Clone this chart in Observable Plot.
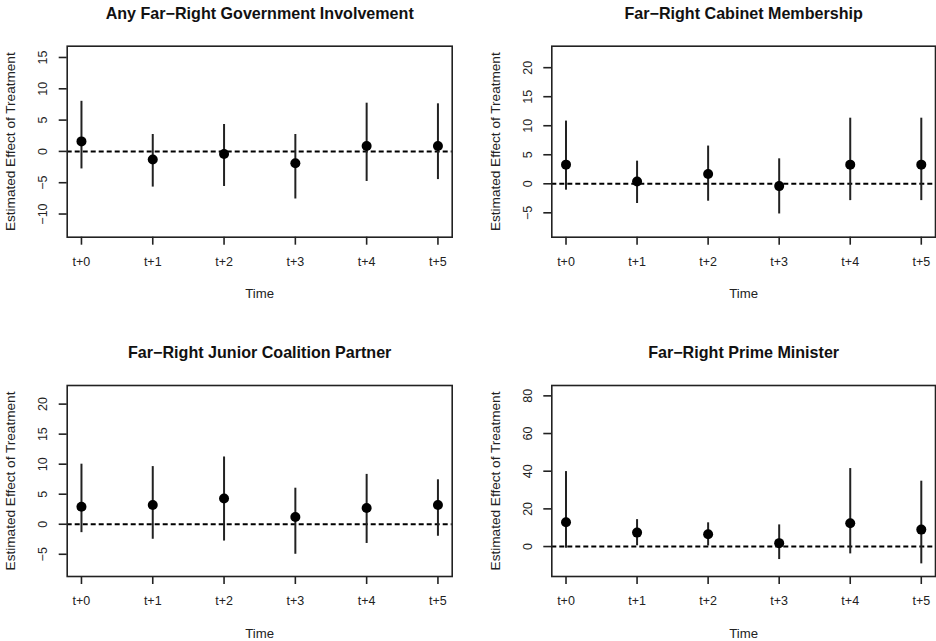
<!DOCTYPE html>
<html>
<head>
<meta charset="utf-8">
<script src="https://cdn.jsdelivr.net/npm/d3@7"></script>
<script src="https://cdn.jsdelivr.net/npm/@observablehq/plot@0.6"></script>
<style>
  html, body { margin: 0; padding: 0; background: #fff; }
  #grid { position: relative; width: 936px; height: 641px; background: #fff; }
  .panel { position: absolute; }
  .panel svg { display: block; overflow: visible; }
</style>
</head>
<body>
<div id="grid"></div>
<script>
// Time since treatment (x axis categories)
const timeLabels = ["t+0", "t+1", "t+2", "t+3", "t+4", "t+5"];

// Any far-right government involvement
const anyEst   = [1.6, -1.3, -0.4, -1.9, 0.85, 0.85];
const anyLower = [-2.8, -5.7, -5.6, -7.6, -4.8, -4.5];
const anyUpper = [8.0, 2.7, 4.3, 2.7, 7.7, 7.6];
const anyTicks = [-10, -5, 0, 5, 10, 15];

// Far-right cabinet membership
const cabEst   = [3.3, 0.4, 1.7, -0.4, 3.3, 3.3];
const cabLower = [-1.1, -3.4, -3.0, -5.2, -2.9, -2.9];
const cabUpper = [10.8, 3.9, 6.5, 4.3, 11.3, 11.3];
const cabTicks = [-5, 0, 5, 10, 15, 20];

// Far-right junior coalition partner
const junEst   = [2.9, 3.2, 4.3, 1.2, 2.7, 3.2];
const junLower = [-1.4, -2.5, -2.8, -5.0, -3.2, -2.0];
const junUpper = [10.0, 9.6, 11.2, 6.0, 8.3, 7.4];
const junTicks = [-5, 0, 5, 10, 15, 20];

// Far-right prime minister
const pmEst   = [12.9, 7.4, 6.5, 1.8, 12.4, 9.0];
const pmLower = [-0.9, 0.4, 0.3, -6.9, -3.9, -9.2];
const pmUpper = [39.8, 14.3, 12.6, 11.5, 41.4, 34.7];
const pmTicks = [0, 20, 40, 60, 80];

const panels = [
  {title: "Any Far\u2212Right Government Involvement", est: anyEst, lo: anyLower, hi: anyUpper, ticks: anyTicks,
   domain: [-13.7, 16.8], left: 0, top: 0, height: 320, mL: 66.7, mR: 16.3, mT: 45.7, mB: 83.3},
  {title: "Far\u2212Right Cabinet Membership", est: cabEst, lo: cabLower, hi: cabUpper, ticks: cabTicks,
   domain: [-9.2, 23.7], left: 468, top: 0, height: 320, mL: 83.3, mR: 1, mT: 45.7, mB: 83.3},
  {title: "Far\u2212Right Junior Coalition Partner", est: junEst, lo: junLower, hi: junUpper, ticks: junTicks,
   domain: [-8.7, 23.1], left: 0, top: 320, height: 321, mL: 66.7, mR: 16.3, mT: 65, mB: 65},
  {title: "Far\u2212Right Prime Minister", est: pmEst, lo: pmLower, hi: pmUpper, ticks: pmTicks,
   domain: [-15.9, 85.5], left: 468, top: 320, height: 321, mL: 83.3, mR: 1, mT: 65, mB: 65}
];

const ink = "#222";
const fmt = d3.format("d"); // uses the typographic minus sign

function drawPanel(p) {
  const rows = timeLabels.map((t, i) => ({i, est: p.est[i], lo: p.lo[i], hi: p.hi[i]}));
  return Plot.plot({
    width: 468,
    height: p.height,
    marginLeft: p.mL,
    marginRight: p.mR,
    marginTop: p.mT,
    marginBottom: p.mB,
    style: {fontFamily: "'Liberation Sans', Arial, sans-serif", fontSize: "12.5px", color: ink, background: "#fff", overflow: "visible"},
    x: {domain: [-0.2, 5.2]},
    y: {domain: p.domain},
    marks: [
      // reference line at zero effect
      Plot.ruleY([0], {stroke: "#000", strokeWidth: 2, strokeDasharray: "5,3"}),
      // confidence intervals
      Plot.ruleX(rows, {x: "i", y1: "lo", y2: "hi", stroke: "#222", strokeWidth: 2}),
      // point estimates
      Plot.dot(rows, {x: "i", y: "est", r: 5, fill: "#000", stroke: "none"}),
      Plot.frame({stroke: "#222", strokeWidth: 1.6}),
      Plot.axisX({ticks: rows.map(d => d.i), tickFormat: i => timeLabels[i], tickSize: 8, tickPadding: 12,
                  label: null, stroke: "#222", strokeWidth: 1.6, fill: ink}),
      // y ticks; their labels are drawn rotated, reading bottom-to-top
      Plot.axisY({ticks: p.ticks, tickSize: 8, tickFormat: () => "", label: null, stroke: "#222", strokeWidth: 1.6}),
      Plot.text(p.ticks, {y: d => d, text: d => fmt(d), frameAnchor: "left", dx: -24, rotate: -90,
                          textAnchor: "middle", lineAnchor: "middle", fontSize: 12.5, fill: ink}),
      Plot.text([p.title], {text: d => d, frameAnchor: "top", dy: -39, fontWeight: "bold", fontSize: 16.1, fill: "#111"}),
      Plot.text(["Time"], {text: d => d, frameAnchor: "bottom", dy: 61, fontSize: 13.2, fill: ink}),
      Plot.text(["Estimated Effect of Treatment"], {text: d => d, frameAnchor: "left", dx: -56.6, rotate: -90,
                                                   textAnchor: "middle", fontSize: 13.6, fill: ink})
    ]
  });
}

const grid = document.getElementById("grid");
for (const p of panels) {
  const div = document.createElement("div");
  div.className = "panel";
  div.style.left = p.left + "px";
  div.style.top = p.top + "px";
  div.appendChild(drawPanel(p));
  grid.appendChild(div);
}
</script>
</body>
</html>
